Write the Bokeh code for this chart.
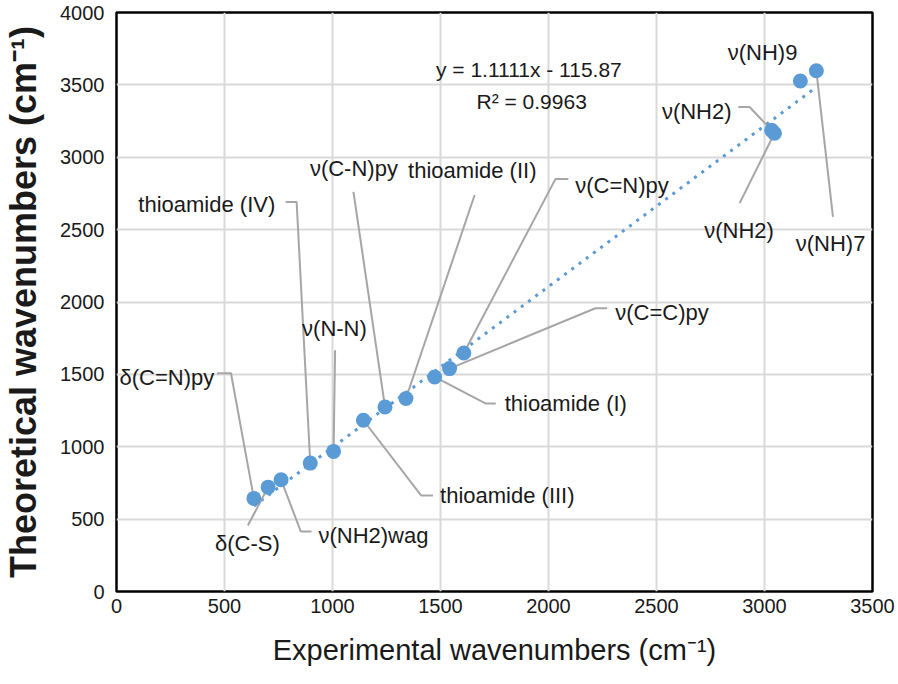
from bokeh.plotting import figure
from bokeh.models import ColumnDataSource, FixedTicker, Range1d
from bokeh.core.properties import value
from bokeh.embed import file_html
from bokeh.resources import INLINE

# ---- data ----
labels = ["δ(C=N)py", "δ(C-S)", "ν(NH2)wag", "thioamide (IV)", "ν(N-N)",
          "thioamide (III)", "ν(C-N)py", "thioamide (II)", "thioamide (I)",
          "ν(C=C)py", "ν(C=N)py", "ν(NH2)", "ν(NH2)", "ν(NH)9", "ν(NH)7"]
experimental = [636, 702, 762, 897, 1005, 1143, 1243, 1340, 1473, 1542, 1608,
                3033, 3046, 3166, 3240]
theoretical = [643, 721, 772, 887, 968, 1183, 1275, 1333, 1482, 1540, 1648,
               3186, 3166, 3527, 3598]
slope = 1.1111
intercept = -115.87
r_squared = 0.9963
x_ticks = [0, 500, 1000, 1500, 2000, 2500, 3000, 3500]
y_ticks = [0, 500, 1000, 1500, 2000, 2500, 3000, 3500, 4000]

# ---- label layout (data coordinates) ----
label_pos = [(14, 1480), (606, 332), (935, 387), (101, 2676), (1009, 1819),
             (1498, 664), (1099, 2925), (1350, 2911), (1797, 1300),
             (2309, 1929), (2124, 2808), (2525, 3313), (2882, 2497),
             (2991, 3721), (3306, 2407)]
label_align = ["left", "center", "left", "left", "center", "left", "center",
               "left", "left", "left", "left", "left", "center", "center", "center"]
leader_from = [[(465, 1508), (530, 1508)],
               [(608, 456)],
               [(903, 415), (853, 415)],
               [(783, 2690), (834, 2690)],
               [(1012, 1667)],
               [(1465, 664), (1410, 664)],
               [(1097, 2761)],
               [(1658, 2739)],
               [(1756, 1298), (1710, 1298)],
               [(2272, 1957), (2217, 1957)],
               [(2092, 2849), (2032, 2849)],
               [(2879, 3347), (2931, 3347)],
               [(2885, 2683)],
               [],
               [(3317, 2588)]]

FONT = "Liberation Sans"
BLUE = "#5b9bd5"
TXT = "#1a1a1a"

p = figure(width=898, height=684, output_backend="svg", toolbar_location=None,
           x_range=Range1d(0, 3500), y_range=Range1d(0, 4000),
           min_border_left=112, min_border_right=26, min_border_top=12,
           min_border_bottom=93)
p.background_fill_color = "white"
p.border_fill_color = "white"
p.outline_line_color = "black"
p.outline_line_width = 2.5

p.xaxis.ticker = FixedTicker(ticks=x_ticks)
p.yaxis.ticker = FixedTicker(ticks=y_ticks)
for ax in (p.xaxis[0], p.yaxis[0]):
    ax.axis_line_color = None
    ax.major_tick_line_color = None
    ax.minor_tick_line_color = None
    ax.major_tick_out = 0
    ax.major_tick_in = 0
    ax.minor_tick_out = 0
    ax.major_label_text_color = TXT
    ax.axis_label_text_color = TXT
    ax.axis_label_text_font_style = "normal"

p.xaxis.major_label_text_font = FONT
p.xaxis.major_label_text_font_size = "20px"
p.xaxis.major_label_standoff = 7
p.xaxis.axis_label = "Experimental wavenumbers (cm⁻¹)"
p.xaxis.axis_label_text_font = FONT
p.xaxis.axis_label_text_font_size = "29px"
p.xaxis.axis_label_standoff = 18

p.yaxis.major_label_text_font = FONT
p.yaxis.major_label_text_font_size = "20px"
p.yaxis.major_label_standoff = 12
p.yaxis.axis_label = "Theoretical wavenumbers (cm⁻¹)"
p.yaxis.axis_label_text_font = FONT
p.yaxis.axis_label_text_font_style = "bold"
p.yaxis.axis_label_text_font_size = "36px"
p.yaxis.axis_label_standoff = 13

p.grid.grid_line_color = "#d9d9d9"
p.grid.grid_line_width = 2
p.xgrid.ticker = FixedTicker(ticks=x_ticks)
p.ygrid.ticker = FixedTicker(ticks=y_ticks)

# trendline
tx = [min(experimental), max(experimental)]
ty = [slope * v + intercept for v in tx]
p.line(tx, ty, line_color=BLUE, line_width=3, line_dash="3 6")

# leader lines
xs, ys = [], []
for i, pts in enumerate(leader_from):
    if not pts:
        continue
    xs.append([q[0] for q in pts] + [experimental[i]])
    ys.append([q[1] for q in pts] + [theoretical[i]])
p.multi_line(xs, ys, line_color="#a6a6a6", line_width=2)

# points
src = ColumnDataSource(dict(x=experimental, y=theoretical))
p.scatter("x", "y", source=src, size=15, fill_color=BLUE, line_color=None)

# labels
for align in ("left", "center"):
    idx = [i for i, a in enumerate(label_align) if a == align]
    p.text(x=[label_pos[i][0] for i in idx], y=[label_pos[i][1] for i in idx],
           text=[labels[i] for i in idx], text_align=align,
           text_baseline="middle", text_font=value(FONT),
           text_font_size="22px", text_color=TXT)

# equation
p.text(x=[1479], y=[3603], text=[f"y = {slope}x - {abs(intercept)}"],
       text_align="left", text_baseline="middle", text_font=value(FONT),
       text_font_size="21px", text_color=TXT)
p.text(x=[1922], y=[3382], text=[f"R² = {r_squared}"],
       text_align="center", text_baseline="middle", text_font=value(FONT),
       text_font_size="21px", text_color=TXT)

open("out.html", "w").write(file_html(p, INLINE))
